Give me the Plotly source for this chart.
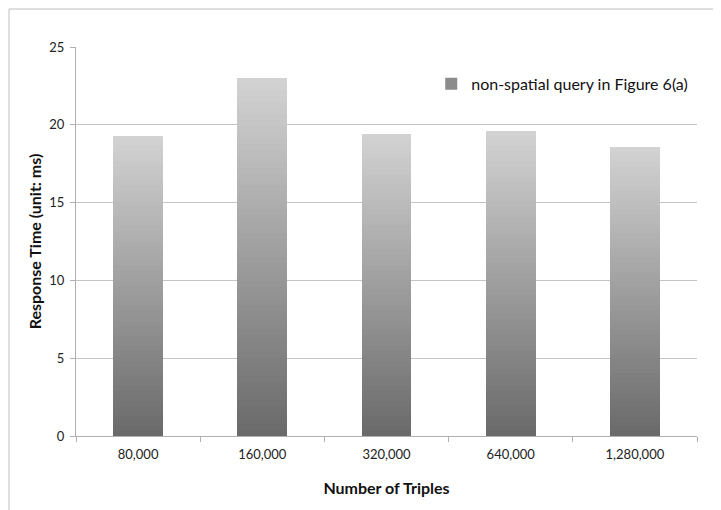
import plotly.graph_objects as go

categories = ["80,000", "160,000", "320,000", "640,000", "1,280,000"]
response_ms = [19.25, 23.0, 19.4, 19.6, 18.55]
series_name = "non-spatial query in Figure 6(a)"

N = 60
bottom = (0x6a, 0x6a, 0x6a)
top = (0xd2, 0xd2, 0xd2)

def col(t):
    return "rgb(%d,%d,%d)" % tuple(round(b + (c - b) * t) for b, c in zip(bottom, top))

fig = go.Figure()
for i in range(N):
    fig.add_trace(go.Bar(
        x=categories,
        y=[v / N for v in response_ms],
        marker=dict(color=col(i / (N - 1)), line=dict(width=0)),
        width=0.4,
        showlegend=False,
        hoverinfo="skip",
    ))
# legend entry
fig.add_trace(go.Bar(
    x=[None], y=[None], name=series_name,
    marker=dict(color="#8c8c8c", line=dict(width=0)), showlegend=True,
))

FONT = "Lato, Open Sans, sans-serif"
L, R, T, B = 68, 32, 39, 82
fig.update_layout(
    width=721, height=510,
    barmode="stack",
    bargap=0.6,
    paper_bgcolor="white", plot_bgcolor="white",
    margin=dict(l=L, r=R, t=T, b=B),
    font=dict(family=FONT, size=12, color="#222"),
    legend=dict(x=0.572, y=0.905, xanchor="left", yanchor="middle",
                bgcolor="rgba(0,0,0,0)", font=dict(size=16, color="#111"),
                itemwidth=30, tracegroupgap=0),
    xaxis=dict(
        showline=True, linecolor="#b0b0b0", linewidth=1,
        ticks="outside", ticklen=5, tickcolor="#b0b0b0",
        tickson="boundaries",
        ticklabelstandoff=6,
        tickfont=dict(size=13, color="#222"),
        title=dict(text="<b>Number of Triples</b>", font=dict(size=16, color="#111"), standoff=22),
        showgrid=False,
    ),
    yaxis=dict(
        range=[0, 25], dtick=5,
        showline=True, linecolor="#b0b0b0", linewidth=1,
        ticks="outside", ticklen=5, tickcolor="#b0b0b0",
        gridcolor="#c4c4c4", gridwidth=1,
        zeroline=False,
        ticklabelstandoff=3,
        tickfont=dict(size=13, color="#222"),
        title=dict(text="<b>Response Time (unit: ms)</b>", font=dict(size=16, color="#111"), standoff=3),
    ),
)
# outer chart frame (left and top edges visible)
pw, ph = 721 - L - R, 510 - T - B
fx = (1 - L) / pw
fy = 1 + (T - 1) / ph
fig.add_shape(type="line", xref="paper", yref="paper", x0=fx, x1=fx, y0=-0.3, y1=fy,
              line=dict(color="#bdbdbd", width=1))
fig.add_shape(type="line", xref="paper", yref="paper", x0=fx, x1=1.1, y0=fy, y1=fy,
              line=dict(color="#bdbdbd", width=1))

fig.write_html("out.html")
